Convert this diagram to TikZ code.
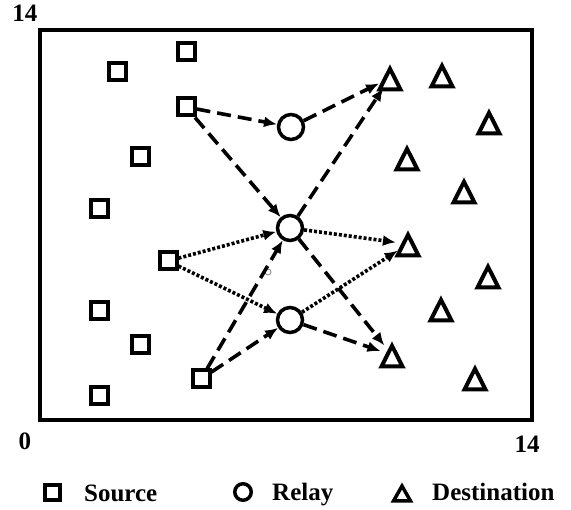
\documentclass[tikz,border=0pt]{standalone}
\usepackage{fontspec}
\setmainfont{Liberation Serif}
\usetikzlibrary{arrows.meta}
\begin{document}
\begin{tikzpicture}[x=1pt,y=-1pt,
  srcbox/.style={draw, rectangle, line width=4pt, minimum size=17pt, inner sep=0pt},
  relay/.style={draw, circle, line width=3.5pt, minimum size=25pt, inner sep=0pt},
  dest/.style={circle, minimum size=24pt, inner sep=0pt},
  triline/.style={line width=4pt, line join=miter},
  dlink/.style={line width=3.6pt, dash pattern=on 14pt off 7pt, -{Latex[length=13pt,width=11pt]}},
  plink/.style={line width=3.6pt, dash pattern=on 3pt off 2pt, -{Latex[length=13pt,width=11pt]}},
  lbl/.style={font=\bfseries\fontsize{25}{25}\selectfont, inner sep=0pt}
]
\useasboundingbox (0,0) rectangle (571,510);
\draw[line width=4.5pt] (40,30) rectangle (532,420);

% axis labels
\node[lbl, anchor=base] (t14) at (25,22) {14};
\node[lbl, anchor=base] (t0) at (25,450) {0};
\node[lbl, anchor=base] (r14) at (527,453) {14};

% sources
\node[srcbox] (S1) at (186,52) {};
\node[srcbox] (S2) at (117,72) {};
\node[srcbox] (S3) at (186,107) {};
\node[srcbox] (S4) at (140,157) {};
\node[srcbox] (S5) at (99,209) {};
\node[srcbox] (S6) at (168,261) {};
\node[srcbox] (S7) at (99,311) {};
\node[srcbox] (S8) at (140,345) {};
\node[srcbox] (S9) at (201,379) {};
\node[srcbox] (S10) at (99,396) {};

% relays
\node[relay] (R1) at (291,127) {};
\node[relay] (R2) at (290,228) {};
\node[relay] (R3) at (290,320) {};

% destinations
\node[dest] (D1) at (390,78) {};
\node[dest] (D2) at (442,75) {};
\node[dest] (D3) at (489,122) {};
\node[dest] (D4) at (407,158) {};
\node[dest] (D5) at (464,191) {};
\node[dest] (D6) at (408,244) {};
\node[dest] (D7) at (488,276) {};
\node[dest] (D8) at (441,309) {};
\node[dest] (D9) at (392,355) {};
\node[dest] (D10) at (475,378) {};
\foreach \d in {D1,D2,D3,D4,D5,D6,D7,D8,D9,D10}
  \draw[triline] ([shift={(0,-9.2)}]\d.center) -- ([shift={(-10.5,11.5)}]\d.center)
     -- ([shift={(10.5,11.5)}]\d.center) -- cycle;

% speck
\node[draw=gray, circle, minimum size=6pt, inner sep=0pt, line width=0.8pt] (speck) at (268,272) {};

% dashed links
\draw[dlink] (S3) -- (R1);
\draw[dlink] (S3) -- (R2);
\draw[dlink] (R1) -- (D1);
\draw[dlink] (R2) -- (D1);
\draw[dlink] (R2) -- (D9);
\draw[dlink] (R3) -- (D9);
\draw[dlink] (S9) -- (R2);
\draw[dlink] (S9) -- (R3);
% dotted links
\draw[plink] (S6) -- (R2);
\draw[plink] (S6) -- (R3);
\draw[plink] (R2) -- (D6);
\draw[plink] (R3) -- (D6);

% legend
\node[draw, rectangle, line width=4pt, minimum size=15pt, inner sep=0pt] (LS) at (52.5,493) {};
\node[lbl, anchor=base west] (LSt) at (84,502) {Source};
\node[draw, circle, line width=3.5pt, minimum size=16.5pt, inner sep=0pt] (LR) at (243,492) {};
\node[lbl, anchor=base west] (LRt) at (272,501) {Relay};
\node[dest, minimum size=18pt] (LD) at (402,492.5) {};
\draw[line width=3.5pt, line join=miter] ([shift={(0,-6.5)}]LD.center) -- ([shift={(-8.5,8.5)}]LD.center)
   -- ([shift={(8.5,8.5)}]LD.center) -- cycle;
\node[lbl, anchor=base west] (LDt) at (432,501) {Destination};
\end{tikzpicture}
\end{document}
